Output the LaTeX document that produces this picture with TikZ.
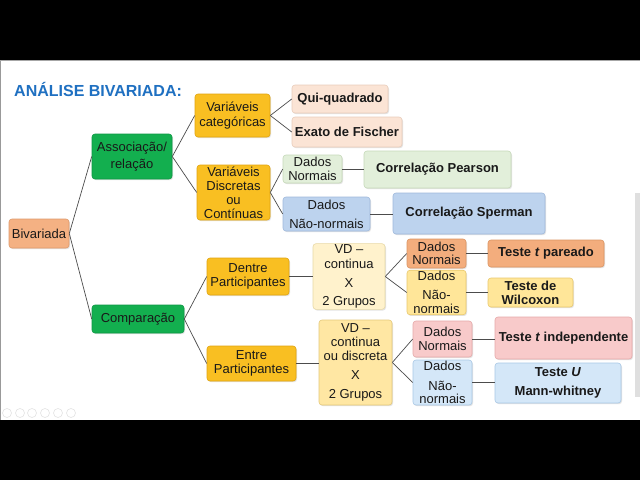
\documentclass[tikz,border=0pt]{standalone}
\usepackage{fontspec}
\setmainfont{Liberation Sans}
\usetikzlibrary{shadows}
\definecolor{titleblue}{HTML}{1F70C1}
\definecolor{salmon}{HTML}{F4B183}\definecolor{salmonB}{HTML}{DE9A6C}
\definecolor{grn}{HTML}{13AF4F}\definecolor{grnB}{HTML}{0E9744}
\definecolor{gold}{HTML}{F9BF22}\definecolor{goldB}{HTML}{E0A40F}
\definecolor{peach}{HTML}{FBE4D5}\definecolor{peachB}{HTML}{E9CDBB}
\definecolor{lgrn}{HTML}{E2EFDA}\definecolor{lgrnB}{HTML}{C6D9B9}
\definecolor{blu}{HTML}{BDD3EE}\definecolor{bluB}{HTML}{9FB9DC}
\definecolor{cream}{HTML}{FFF2CC}\definecolor{creamB}{HTML}{E8D9A6}
\definecolor{creamtwo}{HTML}{FFE7A3}\definecolor{creamtwoB}{HTML}{E5C97A}
\definecolor{orng}{HTML}{F3AD7D}\definecolor{orngB}{HTML}{DB9462}
\definecolor{yel}{HTML}{FFE699}\definecolor{yelB}{HTML}{E9C96D}
\definecolor{pnk}{HTML}{F8CACA}\definecolor{pnkB}{HTML}{E6A9A9}
\definecolor{lblu}{HTML}{D4E7F8}\definecolor{lbluB}{HTML}{A9C8E6}
\begin{document}
\begin{tikzpicture}[x=1pt,y=-1pt,
  box/.style={rounded corners=3pt, align=center, inner sep=1pt, text=black!90,
    font=\fontsize{13}{15}\selectfont, line width=0.6pt,
    drop shadow={shadow xshift=1pt, shadow yshift=-1.2pt, opacity=0.22}},
  bbox/.style={box, font=\fontsize{13}{15}\selectfont\bfseries},
  sz/.style 2 args={minimum width=#1pt, minimum height=#2pt},
  conn/.style={draw=black!70, line width=0.7pt}]
\useasboundingbox (0,0) rectangle (640,480);
\fill[black] (0,0) rectangle (640,480);
\fill[white] (0,60) rectangle (640,420);
\draw[gray!80, line width=0.8pt] (0.8,60) -- (0.8,420);
\draw[gray!70, line width=0.6pt] (0,60.3) -- (640,60.3);
\fill[gray!25] (635,193) rectangle (640,397);
\foreach \cx in {7,20,32,45,58,71} \draw[gray!22, line width=0.6pt] (\cx,413) circle (4.5pt);

\node[anchor=west, font=\fontsize{16}{18}\selectfont\bfseries, text=titleblue, inner sep=0] (title) at (14,89) {ANÁLISE BIVARIADA:};

\node[box, fill=salmon, draw=salmonB, sz={60}{29}] (biv) at (39,233.5) {Bivariada};
\node[box, fill=grn, draw=grnB, sz={80}{45}] (assoc) at (132,156.5) {Associação/\\[2pt]relação};
\node[box, fill=grn, draw=grnB, sz={92}{28}] (comp) at (138,319) {Comparação};
\node[box, fill=gold, draw=goldB, sz={75}{43}] (vcat) at (232.5,115.5) {Variáveis\\categóricas};
\node[box, fill=gold, draw=goldB, sz={73}{55}, font=\fontsize{13}{14}\selectfont] (vdisc) at (233.5,192.5) {Variáveis\\Discretas\\ou\\Contínuas};
\node[bbox, fill=peach, draw=peachB, sz={96}{28}] (qui) at (340,99) {Qui-quadrado};
\node[bbox, fill=peach, draw=peachB, sz={110}{30}] (exato) at (347,132) {Exato de Fischer};
\node[box, fill=lgrn, draw=lgrnB, sz={59}{28}, font=\fontsize{13}{13.5}\selectfont] (dn1) at (312.5,169) {Dados\\Normais};
\node[box, fill=blu, draw=bluB, sz={87}{34}] (dnn1) at (326.5,214) {Dados\\[4pt]Não-normais};
\node[bbox, fill=lgrn, draw=lgrnB, sz={147}{37}] (pear) at (437.5,169.5) {Correlação Pearson};
\node[bbox, fill=blu, draw=bluB, sz={152}{41}] (sper) at (469,213.5) {Correlação Sperman};
\node[box, fill=gold, draw=goldB, sz={82}{37}, font=\fontsize{13}{13.5}\selectfont] (dentre) at (248,276.5) {Dentre\\Participantes};
\node[box, fill=gold, draw=goldB, sz={89}{35}, font=\fontsize{13}{13.5}\selectfont] (entre) at (251.5,363.5) {Entre\\Participantes};
\node[box, fill=cream, draw=creamB, sz={72}{63}] (vd1) at (349,276.5) {VD –\\continua\\[4pt]X\\[3pt]2 Grupos};
\node[box, fill=creamtwo, draw=creamtwoB, sz={73}{85}, font=\fontsize{13}{14}\selectfont] (vd2) at (355.5,362.5) {VD –\\continua\\ou discreta\\[5pt]X\\[5pt]2 Grupos};
\node[box, fill=orng, draw=orngB, sz={59}{29}, font=\fontsize{13}{13.5}\selectfont] (dn2) at (436.5,253.5) {Dados\\Normais};
\node[box, fill=yel, draw=yelB, sz={59}{41}, font=\fontsize{13}{14}\selectfont] (dnn2) at (436.5,292.5) {Dados\\[5pt]Não-\\normais};
\node[bbox, fill=orng, draw=orngB, sz={116}{27}] (tpar) at (546,253.5) {Teste \textit{t} pareado};
\node[bbox, fill=yel, draw=yelB, sz={85}{29}, font=\fontsize{13}{14}\selectfont\bfseries] (wil) at (530.5,292.5) {Teste de\\Wilcoxon};
\node[box, fill=pnk, draw=pnkB, sz={59}{36}, font=\fontsize{13}{13.5}\selectfont] (dn3) at (442.5,339) {Dados\\Normais};
\node[box, fill=lblu, draw=lbluB, sz={59}{45}, font=\fontsize{13}{13.5}\selectfont] (dnn3) at (442.5,382.5) {Dados\\[6pt]Não-\\normais};
\node[bbox, fill=pnk, draw=pnkB, sz={137}{42}] (tind) at (563.5,338) {Teste \textit{t} independente};
\node[bbox, fill=lblu, draw=lbluB, sz={126}{40}] (tu) at (558,383) {Teste \textit{U}\\[4pt]Mann-whitney};

\draw[conn] (biv.east) -- (assoc.west);
\draw[conn] (biv.east) -- (comp.west);
\draw[conn] (assoc.east) -- (vcat.west);
\draw[conn] (assoc.east) -- (vdisc.west);
\draw[conn] (vcat.east) -- (qui.west);
\draw[conn] (vcat.east) -- (exato.west);
\draw[conn] (vdisc.east) -- (dn1.west);
\draw[conn] (vdisc.east) -- (dnn1.west);
\draw[conn] (dn1.east) -- (dn1.east -| pear.west);
\draw[conn] (dnn1.east) -- (dnn1.east -| sper.west);
\draw[conn] (comp.east) -- (dentre.west);
\draw[conn] (comp.east) -- (entre.west);
\draw[conn] (dentre.east) -- (dentre.east -| vd1.west);
\draw[conn] (entre.east) -- (entre.east -| vd2.west);
\draw[conn] (vd1.east) -- (dn2.west);
\draw[conn] (vd1.east) -- (dnn2.west);
\draw[conn] (vd2.east) -- (dn3.west);
\draw[conn] (vd2.east) -- (dnn3.west);
\draw[conn] (dn2.east) -- (dn2.east -| tpar.west);
\draw[conn] (dnn2.east) -- (dnn2.east -| wil.west);
\draw[conn] (dn3.east) -- (dn3.east -| tind.west);
\draw[conn] (dnn3.east) -- (dnn3.east -| tu.west);
\end{tikzpicture}
\end{document}
